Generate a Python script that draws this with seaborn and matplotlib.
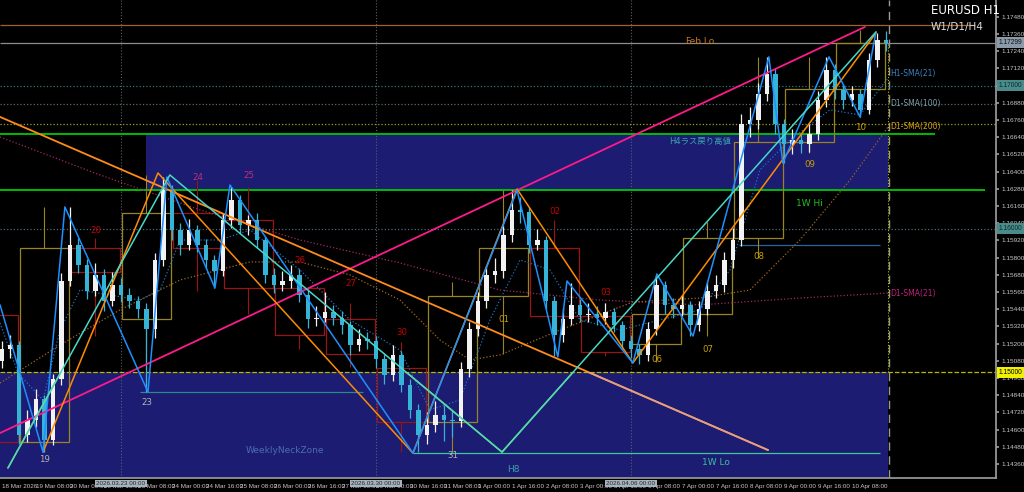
import matplotlib
matplotlib.use("Agg")
import matplotlib.pyplot as plt
from matplotlib.patches import Rectangle
import numpy as np
import pandas as pd
import seaborn as sns

# ---------------- data ----------------
# H1 chart, candles aggregated in 4-hour steps; x = hours since 18 Mar 16:00
candle_hour = list(range(0, 420, 4))
opens = [1.1508, 1.1516, 1.1519, 1.1456, 1.1467, 1.1481, 1.1453, 1.1495, 1.1564, 1.1589,
         1.1575, 1.1557, 1.1568, 1.1550, 1.1561, 1.1554, 1.1550, 1.1544, 1.1530, 1.1578,
         1.1627, 1.1599, 1.1589, 1.1599, 1.1589, 1.1578, 1.1571, 1.1606, 1.1620, 1.1603,
         1.1606, 1.1592, 1.1568, 1.1561, 1.1564, 1.1568, 1.1554, 1.1537, 1.1538, 1.1542,
         1.1538, 1.1533, 1.1519, 1.1523, 1.1522, 1.1509, 1.1498, 1.1512, 1.1491, 1.1474,
         1.1456, 1.1463, 1.1470, 1.1467, 1.1466, 1.1502, 1.1530, 1.1550, 1.1568, 1.1571,
         1.1596, 1.1613, 1.1612, 1.1589, 1.1592, 1.1550, 1.1526, 1.1537, 1.1547, 1.1540,
         1.1541, 1.1538, 1.1542, 1.1533, 1.1522, 1.1516, 1.1512, 1.1530, 1.1561, 1.1547,
         1.1544, 1.1547, 1.1533, 1.1544, 1.1557, 1.1561, 1.1578, 1.1592, 1.1673, 1.1676,
         1.1694, 1.1708, 1.1673, 1.1659, 1.1662, 1.1659, 1.1666, 1.1690, 1.1711, 1.1697,
         1.1690, 1.1694, 1.1683, 1.1718, 1.1732]
closes = [1.1516, 1.1519, 1.1456, 1.1467, 1.1481, 1.1453, 1.1495, 1.1564, 1.1589, 1.1575,
          1.1557, 1.1568, 1.1550, 1.1561, 1.1554, 1.1550, 1.1544, 1.1530, 1.1578, 1.1627,
          1.1599, 1.1589, 1.1599, 1.1589, 1.1578, 1.1571, 1.1606, 1.1620, 1.1603, 1.1606,
          1.1592, 1.1568, 1.1561, 1.1564, 1.1568, 1.1554, 1.1537, 1.1538, 1.1542, 1.1538,
          1.1533, 1.1519, 1.1523, 1.1522, 1.1509, 1.1498, 1.1512, 1.1491, 1.1474, 1.1456,
          1.1463, 1.1470, 1.1467, 1.1466, 1.1502, 1.1530, 1.1550, 1.1568, 1.1571, 1.1596,
          1.1613, 1.1612, 1.1589, 1.1592, 1.1550, 1.1526, 1.1537, 1.1547, 1.1540, 1.1541,
          1.1538, 1.1542, 1.1533, 1.1522, 1.1516, 1.1512, 1.1530, 1.1561, 1.1547, 1.1544,
          1.1547, 1.1533, 1.1544, 1.1557, 1.1561, 1.1578, 1.1592, 1.1673, 1.1676, 1.1694,
          1.1708, 1.1673, 1.1659, 1.1662, 1.1659, 1.1666, 1.1690, 1.1711, 1.1697, 1.1690,
          1.1694, 1.1683, 1.1718, 1.1732, 1.1730]
highs = [1.1522, 1.1526, 1.1522, 1.1474, 1.1488, 1.1484, 1.1499, 1.1569, 1.1615, 1.1594,
         1.1579, 1.1576, 1.1572, 1.1570, 1.1566, 1.1559, 1.1553, 1.1548, 1.1583, 1.1636,
         1.1631, 1.1604, 1.1607, 1.1603, 1.1593, 1.1582, 1.1611, 1.1629, 1.1624, 1.1610,
         1.1611, 1.1595, 1.1573, 1.1571, 1.1575, 1.1572, 1.1558, 1.1546, 1.1556, 1.1547,
         1.1543, 1.1536, 1.1530, 1.1528, 1.1525, 1.1513, 1.1519, 1.1515, 1.1495, 1.1478,
         1.1472, 1.1480, 1.1477, 1.1474, 1.1507, 1.1535, 1.1556, 1.1574, 1.1580, 1.1602,
         1.1627, 1.1622, 1.1615, 1.1600, 1.1595, 1.1553, 1.1545, 1.1562, 1.1551, 1.1548,
         1.1546, 1.1548, 1.1545, 1.1536, 1.1526, 1.1520, 1.1535, 1.1566, 1.1564, 1.1552,
         1.1554, 1.1550, 1.1550, 1.1563, 1.1568, 1.1584, 1.1601, 1.1680, 1.1685, 1.1702,
         1.1720, 1.1712, 1.1677, 1.1670, 1.1667, 1.1673, 1.1696, 1.1720, 1.1715, 1.1701,
         1.1700, 1.1698, 1.1723, 1.1737, 1.1738]
lows = [1.1503, 1.1510, 1.1450, 1.1451, 1.1462, 1.1444, 1.1449, 1.1491, 1.1560, 1.1569,
        1.1551, 1.1553, 1.1543, 1.1546, 1.1549, 1.1545, 1.1538, 1.1486, 1.1524, 1.1574,
        1.1592, 1.1582, 1.1585, 1.1584, 1.1572, 1.1559, 1.1567, 1.1601, 1.1597, 1.1596,
        1.1587, 1.1562, 1.1555, 1.1557, 1.1559, 1.1549, 1.1531, 1.1532, 1.1535, 1.1533,
        1.1527, 1.1512, 1.1515, 1.1516, 1.1503, 1.1492, 1.1494, 1.1486, 1.1468, 1.1444,
        1.1450, 1.1458, 1.1452, 1.1455, 1.1462, 1.1497, 1.1525, 1.1545, 1.1562, 1.1566,
        1.1591, 1.1604, 1.1583, 1.1585, 1.1544, 1.1511, 1.1521, 1.1533, 1.1535, 1.1535,
        1.1533, 1.1534, 1.1528, 1.1517, 1.1510, 1.1506, 1.1508, 1.1526, 1.1541, 1.1538,
        1.1539, 1.1525, 1.1529, 1.1540, 1.1552, 1.1556, 1.1573, 1.1588, 1.1664, 1.1670,
        1.1689, 1.1666, 1.1646, 1.1652, 1.1653, 1.1654, 1.1662, 1.1685, 1.1691, 1.1684,
        1.1686, 1.1678, 1.1680, 1.1713, 1.1724]

# daily candles drawn as boxes
day_names = ['18', '19', '20', '23', '24', '25', '26', '27', '30', '31',
             '01', '02', '03', '06', '07', '08', '09', '10']
day_start = [-16, 8, 32, 56, 80, 104, 128, 152, 176, 200, 224, 248, 272, 296, 320, 344, 368, 392]
day_open = [1.1540, 1.1451, 1.1587, 1.1537, 1.1611, 1.1606, 1.1559, 1.1537, 1.1503, 1.1465,
            1.1553, 1.1587, 1.1539, 1.1520, 1.1541, 1.1594, 1.1661, 1.1698]
day_close = [1.1451, 1.1587, 1.1570, 1.1611, 1.1587, 1.1559, 1.1526, 1.1513, 1.1465, 1.1553,
             1.1587, 1.1539, 1.1514, 1.1541, 1.1594, 1.1661, 1.1698, 1.1730]
day_high = [1.1540, 1.1615, 1.1594, 1.1638, 1.1634, 1.1629, 1.1573, 1.1548, 1.1521, 1.1563,
            1.1627, 1.1606, 1.1548, 1.1567, 1.1605, 1.1720, 1.1720, 1.1739]
day_low = [1.1451, 1.1444, 1.1525, 1.1486, 1.1557, 1.1541, 1.1516, 1.1504, 1.1444, 1.1444,
           1.1513, 1.1511, 1.1511, 1.1507, 1.1525, 1.1580, 1.1653, 1.1678]
day_label_price = [np.nan, 1.1439, 1.1599, 1.1479, 1.1636, 1.1637, 1.1578, 1.1562, 1.1528, 1.1442,
                   1.1537, 1.1612, 1.1556, 1.1509, 1.1516, 1.1581, 1.1645, 1.1671]

# moving averages (read points)
sma_d21_h = [-0.9, 46.1, 93.2, 140.2, 187.3, 234.4, 281.4, 328.5, 375.5, 417]
sma_d21_p = [1.16642, 1.16377, 1.16133, 1.15923, 1.15763, 1.15574, 1.15504, 1.15470, 1.15518, 1.15553]
sma_h4_h = [-0.9, 27.3, 55.5, 83.8, 116.7, 140.2, 163.8, 187.3, 206.1, 220.2, 234.4, 262.6,
            296.9, 328.5, 352, 375.5, 399.1, 417]
sma_h4_p = [1.14925, 1.15190, 1.15435, 1.15644, 1.15770, 1.15770, 1.15679, 1.15504, 1.15225,
            1.15086, 1.15121, 1.15295, 1.15490, 1.15518, 1.15574, 1.15923, 1.16342, 1.16712]
sma_h1_h = [-0.9, 7.5, 19.3, 27.3, 36.7, 65, 74.4, 83.8, 102.6, 116.7, 140.2, 163.8, 187.3, 201.4,
            215.5, 229.6, 243.8, 257.9, 272, 290.8, 309.6, 328.5, 342.6, 356.7, 370.8, 389.6, 403.8, 417]
sma_h1_p = [1.15344, 1.14995, 1.14806, 1.15295, 1.15574, 1.15504, 1.15574, 1.15923, 1.15923, 1.15993,
            1.15714, 1.15365, 1.15155, 1.14737, 1.14806, 1.15365, 1.15784, 1.15714, 1.15365, 1.15295,
            1.15365, 1.15435, 1.15714, 1.16412, 1.16621, 1.16831, 1.16796, 1.17054]

# trend lines / zigzags
pink_h, pink_p = [-0.9, 406.1], [1.14576, 1.17410]
orange_tl_h, orange_tl_p = [-0.9, 360.5], [1.16782, 1.14457]
orange_zz_h = [19.3, 73.4, 193.4, 242.4, 296.9, 411.3]
orange_zz_p = [1.14443, 1.16391, 1.14436, 1.16279, 1.15065, 1.17368]
blue_zz_h = [-0.9, 19.3, 29.6, 68.7, 77.6, 100.2, 107.3, 193.4, 242.4, 261.6, 265.9, 296.9,
             308.2, 325.2, 360.9, 367.5, 389.2, 403.8, 411.3]
blue_zz_p = [1.15470, 1.14443, 1.16154, 1.14862, 1.16363, 1.15588, 1.16307, 1.14436, 1.16270,
             1.15107, 1.15637, 1.15065, 1.15686, 1.15253, 1.17201, 1.16461, 1.17201, 1.16782, 1.17375]
cyan_zz_h = [2.8, 79, 235.3, 411.3]
cyan_zz_p = [1.14332, 1.16377, 1.14443, 1.17375]

# horizontal levels
level_price = [1.17424, 1.17299, 1.17000, 1.16873, 1.16733, 1.16663, 1.16272, 1.16000,
               1.15888, 1.15000, 1.14862, 1.14436]
level_from = [-1, -1, -1, -1, -1, -1, -1, -1, 347, -1, 64.9, 193.4]
level_to = [458, 470, 470, 470, 470, 439, 462.6, 470, 413, 470, 169.9, 413.2]
level_color = ['#a0622a', '#8c8c8c', '#2e7a7a', '#5a6a6a', '#a0a020', '#00c800', '#00c800',
               '#4a6a7a', '#2a64a0', '#b8b800', '#2a8a8a', '#3cc8a0']
level_style = ['-', '-', ':', ':', ':', '-', '-', ':', '-', '--', '-', '-']

zone_h4 = (67.8, 417, 1.16272, 1.16663)
zone_week = (-1, 417, 1.14200, 1.15000)

price_ticks = [1.14360, 1.14480, 1.14600, 1.14720, 1.14840, 1.14960, 1.15080, 1.15200, 1.15320,
               1.15440, 1.15560, 1.15680, 1.15800, 1.15920, 1.16040, 1.16160, 1.16280, 1.16400,
               1.16520, 1.16640, 1.16760, 1.16880, 1.17000, 1.17120, 1.17240, 1.17360, 1.17480]
time_ticks = list(range(0, 401, 16))
time_labels = ['18 Mar 2026', '19 Mar 08:00', '20 Mar 00:00', '20 Mar 16:00', '23 Mar 08:00',
               '24 Mar 00:00', '24 Mar 16:00', '25 Mar 08:00', '26 Mar 00:00', '26 Mar 16:00',
               '27 Mar 08:00', '30 Mar 00:00', '30 Mar 16:00', '31 Mar 08:00', '1 Apr 00:00',
               '1 Apr 16:00', '2 Apr 08:00', '3 Apr 00:00', '3 Apr 16:00', '6 Apr 08:00',
               '7 Apr 00:00', '7 Apr 16:00', '8 Apr 08:00', '9 Apr 00:00', '9 Apr 16:00',
               '10 Apr 08:00']
week_hours = [56, 176, 296]
week_labels = ['2026.03.23 00:00', '2026.03.30 00:00', '2026.04.06 00:00']

# ---------------- style ----------------
sns.set_theme(style="dark", rc={"axes.facecolor": "black", "figure.facecolor": "black",
                                "axes.grid": False, "axes.edgecolor": "#9a9a9a"})
plt.rcParams['font.family'] = ['DejaVu Sans', 'Noto Sans CJK JP']
NARROW = ['Liberation Sans Narrow', 'Liberation Sans', 'DejaVu Sans']

fig = plt.figure(figsize=(10.24, 4.92), dpi=100)
ax = fig.add_axes([0, 14 / 492, 996 / 1024, 478 / 492])
ax.set_facecolor('black')
ax.set_xlim(-0.94, 467.8)
ax.set_ylim(1.14262, 1.17598)

# zones
zh = Rectangle((zone_h4[0], zone_h4[2]), zone_h4[1] - zone_h4[0], zone_h4[3] - zone_h4[2],
               fc='#1c1c72', ec='none', zorder=1)
zw = Rectangle((zone_week[0], zone_week[2]), zone_week[1] - zone_week[0], zone_week[3] - zone_week[2],
               fc='#1c1c72', ec='none', zorder=1)
ax.add_patch(zh)
ax.add_patch(zw)

# week separators and current-bar line
ax.vlines(week_hours, 1.14262, 1.17598, colors='#56606a', linestyles=':', lw=0.8, zorder=1.5)
ax.vlines([417.5], 1.14262, 1.17598, colors='#9a9a9a', linestyles=(0, (6, 4)), lw=1.0, zorder=1.5)
ax.vlines([416.8], 1.15, 1.17299, colors='#b8b800', linestyles=':', lw=0.8, zorder=1.5)

# horizontal levels
for p, a, b, c, s in zip(level_price, level_from, level_to, level_color, level_style):
    lw = 1.3 if c == '#00c800' else 0.9
    ax.hlines(p, a, b, colors=c, linestyles=s, lw=lw, zorder=2)

# daily boxes
for i in range(len(day_names)):
    bull = day_close[i] >= day_open[i]
    col = '#9a8420' if bull else '#9a1414'
    lo_b, hi_b = min(day_open[i], day_close[i]), max(day_open[i], day_close[i])
    ax.add_patch(Rectangle((day_start[i] + 0.5, lo_b), 23, hi_b - lo_b, fill=False,
                           ec=col, lw=0.9, zorder=2.2))
    cx = day_start[i] + 12
    ax.vlines(cx, hi_b, day_high[i], colors=col, lw=0.8, zorder=2.2)
    ax.vlines(cx, day_low[i], lo_b, colors=col, lw=0.8, zorder=2.2)

lab_color = {'19': '#b4b4b4', '23': '#b4b4b4', '31': '#b4b4b4',
             '24': '#c0307a', '25': '#c0307a',
             '20': '#c80000', '26': '#c80000', '27': '#c80000', '30': '#c80000',
             '02': '#c80000', '03': '#c80000'}
for i, n in enumerate(day_names):
    if np.isnan(day_label_price[i]):
        continue
    ax.text(day_start[i] + 12, day_label_price[i], n, color=lab_color.get(n, '#c8a000'),
            fontsize=6.2, ha='center', va='center', zorder=6)

# moving averages (seaborn)
sns.lineplot(x=sma_d21_h, y=sma_d21_p, ax=ax, color='#a02a60', lw=0.9, linestyle=':',
             sort=False, estimator=None, zorder=3)
sns.lineplot(x=sma_h4_h, y=sma_h4_p, ax=ax, color='#a0681c', lw=0.9, linestyle=':',
             sort=False, estimator=None, zorder=3)
sns.lineplot(x=sma_h1_h, y=sma_h1_p, ax=ax, color='#2070c0', lw=0.9, linestyle=':',
             sort=False, estimator=None, zorder=3)

# candles
df = pd.DataFrame({'h': candle_hour, 'o': opens, 'c': closes, 'hi': highs, 'lo': lows})
up = df['c'] >= df['o']
col = np.where(up, '#f2f2f2', '#36b4d8')
ax.vlines(df['h'], df['lo'], df['hi'], colors=col, lw=0.9, zorder=4)
body_lo = np.minimum(df['o'], df['c'])
body_h = np.maximum(np.abs(df['c'] - df['o']), 0.00006)
ax.bar(df['h'], body_h, bottom=body_lo, width=2.2, color=col, edgecolor='none', zorder=4.1)

# trend lines
ax.plot(pink_h, pink_p, color='#ff1a8c', lw=1.3, zorder=5)
ax.plot(orange_tl_h, orange_tl_p, color='#ff8c1a', lw=1.3, zorder=5)
sal, = ax.plot(orange_tl_h, orange_tl_p, color='#e0a08c', lw=1.3, zorder=5.1)
sal.set_clip_path(zw)
sns.lineplot(x=orange_zz_h, y=orange_zz_p, ax=ax, color='#ff8c00', lw=1.1, sort=False,
             estimator=None, zorder=5)
sns.lineplot(x=blue_zz_h, y=blue_zz_p, ax=ax, color='#1e90ff', lw=1.1, sort=False,
             estimator=None, zorder=5)
sns.lineplot(x=cyan_zz_h, y=cyan_zz_p, ax=ax, color='#48d8c8', lw=1.1, sort=False,
             estimator=None, zorder=5)
cz, = ax.plot(cyan_zz_h, cyan_zz_p, color='#5ad8a0', lw=1.1, zorder=5.1)
cz.set_clip_path(zw)

# annotations
ax.text(328.5, 1.17305, 'Feb.Lo', color='#c87a28', fontsize=6.5, ha='center', va='center', zorder=6)
ax.text(328.5, 1.16607, 'H4ラス戻り高値', color='#3aa6b0', fontsize=6, ha='center', va='center', zorder=6)
ax.text(380, 1.16181, '1W Hi', color='#1fc01f', fontsize=6.5, ha='center', va='center', zorder=6)
ax.text(133.2, 1.14457, 'WeeklyNeckZone', color='#4b6db0', fontsize=6.5, ha='center', va='center', zorder=6)
ax.text(336, 1.14367, '1W Lo', color='#3cc0a0', fontsize=6.5, ha='center', va='center', zorder=6)
ax.text(240.5, 1.14318, 'H8', color='#3aa0a8', fontsize=6.5, ha='center', va='center', zorder=6)
ax.text(417.9, 1.17085, 'H1-SMA(21)', color='#3a82c0', fontsize=5.5, ha='left', va='center', zorder=6)
ax.text(417.9, 1.16873, 'D1-SMA(100)', color='#7a9aa6', fontsize=5.5, ha='left', va='center', zorder=6)
ax.text(417.9, 1.16718, 'D1-SMA(200)', color='#d4a010', fontsize=5.5, ha='left', va='center', zorder=6)
ax.text(417.9, 1.15553, 'D1-SMA(21)', color='#c0207a', fontsize=5.5, ha='left', va='center', zorder=6)

# axes / ticks
for s in ['top', 'left']:
    ax.spines[s].set_visible(False)
ax.spines['right'].set_color('#9a9a9a')
ax.spines['bottom'].set_color('#9a9a9a')
ax.yaxis.tick_right()
ax.set_yticks(price_ticks)
ax.set_yticklabels([f'{p:.5f}' for p in price_ticks], family=NARROW)
ax.tick_params(axis='y', colors='#9a9a9a', labelcolor='#c8c8c8', labelsize=4.6,
               length=2.5, pad=1.5, direction='out')
ax.set_xticks(time_ticks)
ax.set_xticklabels(time_labels, family=NARROW)
for lab in ax.get_xticklabels():
    lab.set_ha('left')
ax.tick_params(axis='x', colors='#9a9a9a', labelcolor='#c8c8c8', labelsize=4.5,
               length=3, pad=1.5, direction='out')
ax.set_xlabel('')
ax.set_ylabel('')

# highlighted price labels on the right axis
for p, fc, tc in [(1.17299, '#8a9aa8', '#101010'), (1.17000, '#4a8c8c', '#0a2a2a'),
                  (1.16000, '#4a8c8c', '#0a2a2a'), (1.15000, '#f0f000', '#000000')]:
    ax.text(1.003, p, f'{p:.5f}', transform=ax.get_yaxis_transform(), fontsize=4.8,
            family=NARROW, color=tc, ha='left', va='center', clip_on=False, zorder=10,
            bbox=dict(boxstyle='square,pad=0.3', fc=fc, ec='none'))
# highlighted week labels on the time axis
for h, t in zip(week_hours, week_labels):
    ax.text(h, -0.006, t, transform=ax.get_xaxis_transform(), fontsize=4.5, family=NARROW,
            color='#202830', ha='center', va='top', clip_on=False, zorder=10,
            bbox=dict(boxstyle='square,pad=0.2', fc='#a8b2bc', ec='none'))

fig.text(931 / 1024, 1 - 10 / 492, 'EURUSD H1', color='white', fontsize=8.5, ha='left', va='center')
fig.text(931 / 1024, 1 - 27 / 492, 'W1/D1/H4', color='#d8d8d8', fontsize=7.5, ha='left', va='center')

fig.savefig('out.png', dpi=100, facecolor='black')
